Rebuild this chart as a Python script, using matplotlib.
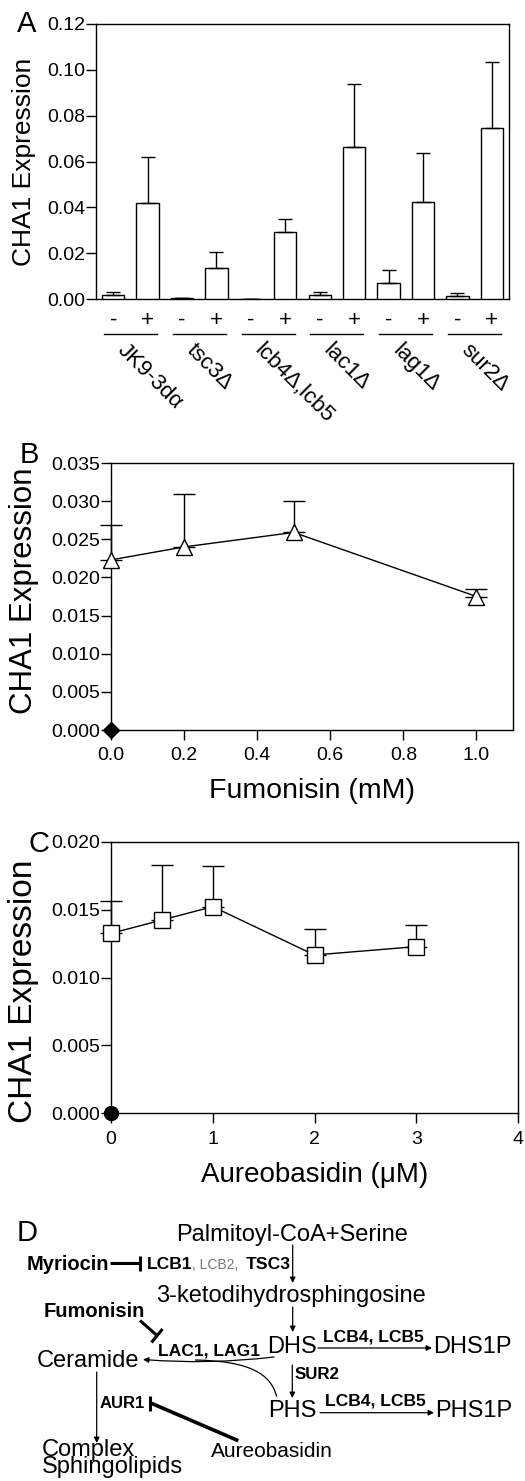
import matplotlib
matplotlib.use("Agg")
import matplotlib.pyplot as plt
import numpy as np
from matplotlib.path import Path
from matplotlib.patches import PathPatch

plt.rcParams['font.family'] = ['Liberation Sans', 'DejaVu Sans']

# ---------------- data ----------------
strains = ["JK9-3dα", "tsc3Δ", "lcb4Δ,lcb5", "lac1Δ", "lag1Δ", "sur2Δ"]
treat_labels = ["-", "+"]
minus_vals = [0.0018, 0.0003, 0.0002, 0.0017, 0.0072, 0.0013]
minus_err = [0.0012, 0.0002, 0.0000, 0.0013, 0.0055, 0.0012]
plus_vals = [0.0420, 0.0136, 0.0293, 0.0664, 0.0425, 0.0748]
plus_err = [0.0200, 0.0070, 0.0057, 0.0274, 0.0212, 0.0286]
a_yticks = [0.00, 0.02, 0.04, 0.06, 0.08, 0.10, 0.12]

fum_x = [0.0, 0.2, 0.5, 1.0]
fum_y = [0.0223, 0.0240, 0.0259, 0.0175]
fum_err = [0.0046, 0.0070, 0.0041, 0.0010]
fum_ctrl_x = [0.0]
fum_ctrl_y = [0.0]
b_xticks = [0.0, 0.2, 0.4, 0.6, 0.8, 1.0]
b_yticks = [0.000, 0.005, 0.010, 0.015, 0.020, 0.025, 0.030, 0.035]

aur_x = [0, 0.5, 1, 2, 3]
aur_y = [0.01326, 0.01424, 0.01523, 0.01166, 0.01228]
aur_err = [0.00239, 0.00406, 0.00300, 0.00192, 0.00159]
aur_ctrl_x = [0]
aur_ctrl_y = [0.0]
c_xticks = [0, 1, 2, 3, 4]
c_yticks = [0.000, 0.005, 0.010, 0.015, 0.020]

W, H = 525, 1481
fig = plt.figure(figsize=(W / 100, H / 100), dpi=100)


def frac(l, t, r, b):
    return [l / W, (H - b) / H, (r - l) / W, (b - t) / H]


LW = 1.0
TICK_FS = 14

# overlay axes in pixel coordinates for panel letters and diagram
axd = fig.add_axes([0, 0, 1, 1])
axd.set_xlim(0, W)
axd.set_ylim(H, 0)
axd.set_axis_off()

# ---------------- Panel A ----------------
axA = fig.add_axes(frac(96, 24, 509, 299))
n = len(strains)
xm = np.arange(n) * 2
xp = xm + 1
bw = 0.65
axA.bar(xm, minus_vals, width=bw, color='white', edgecolor='black', linewidth=LW,
        yerr=[np.zeros(n), minus_err], capsize=5, error_kw=dict(elinewidth=LW, capthick=LW), zorder=3)
axA.bar(xp, plus_vals, width=bw, color='white', edgecolor='black', linewidth=LW,
        yerr=[np.zeros(n), plus_err], capsize=5, error_kw=dict(elinewidth=LW, capthick=LW), zorder=3)
axA.set_xlim(-0.5, 2 * n - 0.5)
axA.set_ylim(0, 0.12)
axA.set_yticks(a_yticks)
axA.set_yticklabels([f"{v:.2f}" for v in a_yticks])
axA.set_xticks([])
axA.tick_params(axis='y', length=7, width=LW, pad=1, labelsize=TICK_FS)
for s in axA.spines.values():
    s.set_linewidth(LW)
axA.text(-0.174, 0.5, "CHA1 Expression", transform=axA.transAxes, rotation=90,
         ha='center', va='center', fontsize=19)
tr = axA.get_xaxis_transform()
for g in range(n):
    axA.text(xm[g], -0.077, treat_labels[0], transform=tr, ha='center', va='center', fontsize=16)
    axA.text(xp[g], -0.077, treat_labels[1], transform=tr, ha='center', va='center', fontsize=16)
    axA.plot([xm[g] - 0.27, xp[g] + 0.27], [-0.127, -0.127], transform=tr, color='black',
             lw=LW, clip_on=False)
    axA.text(xm[g] + 0.42, -0.148, strains[g], transform=tr, rotation=-45,
             rotation_mode='anchor', ha='left', va='top', fontsize=16)

# ---------------- Panel B ----------------
axB = fig.add_axes(frac(111, 463, 513, 730))
axB.errorbar(fum_x, fum_y, yerr=[np.zeros(len(fum_y)), fum_err], color='black', lw=LW,
             marker='^', markersize=12, markerfacecolor='white', markeredgecolor='black',
             markeredgewidth=LW, capsize=8, capthick=LW, elinewidth=LW, clip_on=False, zorder=3)
axB.plot(fum_ctrl_x, fum_ctrl_y, marker='D', color='black', markersize=8, ls='none',
         clip_on=False, zorder=4)
axB.set_xlim(0, 1.1)
axB.set_ylim(0, 0.035)
axB.set_xticks(b_xticks)
axB.set_xticklabels([f"{v:.1f}" for v in b_xticks])
axB.set_yticks(b_yticks)
axB.set_yticklabels([f"{v:.3f}" for v in b_yticks])
axB.tick_params(axis='both', length=7, width=LW, pad=1, labelsize=TICK_FS)
axB.tick_params(axis='x', pad=5)
for s in axB.spines.values():
    s.set_linewidth(LW)
axB.set_xlabel("Fumonisin (mM)", fontsize=20.5, labelpad=10)
axB.text(-0.216, 0.52, "CHA1 Expression", transform=axB.transAxes, rotation=90,
         ha='center', va='center', fontsize=22.5)

# ---------------- Panel C ----------------
axC = fig.add_axes(frac(111, 842, 518, 1113))
axC.errorbar(aur_x, aur_y, yerr=[np.zeros(len(aur_y)), aur_err], color='black', lw=LW,
             marker='s', markersize=11, markerfacecolor='white', markeredgecolor='black',
             markeredgewidth=LW, capsize=8, capthick=LW, elinewidth=LW, clip_on=False, zorder=3)
axC.plot(aur_ctrl_x, aur_ctrl_y, marker='o', color='black', markersize=10, ls='none',
         clip_on=False, zorder=4)
axC.set_xlim(0, 4)
axC.set_ylim(0, 0.020)
axC.set_xticks(c_xticks)
axC.set_yticks(c_yticks)
axC.set_yticklabels([f"{v:.3f}" for v in c_yticks])
axC.tick_params(axis='both', length=7, width=LW, pad=1, labelsize=TICK_FS)
axC.tick_params(axis='x', pad=6)
for s in axC.spines.values():
    s.set_linewidth(LW)
axC.set_xlabel("Aureobasidin (μM)", fontsize=20, labelpad=10)
axC.text(-0.216, 0.45, "CHA1 Expression", transform=axC.transAxes, rotation=90,
         ha='center', va='center', fontsize=24)

# ---------------- panel letters ----------------
axd.text(17, 24, "A", fontsize=21, ha='left', va='center')
axd.text(20, 455, "B", fontsize=21, ha='left', va='center')
axd.text(29, 844, "C", fontsize=21, ha='left', va='center')

# ---------------- Panel D (pathway diagram) ----------------
BIG = 17
BOLD = 12.6
axd.text(17, 1233, "D", fontsize=21, ha='left', va='center')


def t(x, y, s, **kw):
    kw.setdefault('ha', 'left')
    kw.setdefault('va', 'baseline')
    axd.text(x, y, s, **kw)


def arrow(x0, y0, x1, y1, lw=0.9):
    axd.annotate("", xy=(x1, y1), xytext=(x0, y0),
                 arrowprops=dict(arrowstyle='-|>', lw=lw, color='black',
                                 mutation_scale=8, shrinkA=0, shrinkB=0))


t(291.7, 1240.5, "Palmitoyl-CoA+Serine", fontsize=BIG, ha='center')
arrow(292.7, 1245, 292.7, 1283)
t(26.7, 1269.5, "Myriocin", fontsize=14.5, fontweight='bold')
axd.plot([110, 139.5], [1263.3, 1263.3], color='black', lw=2.2, solid_capstyle='butt')
axd.plot([139.5, 139.5], [1256, 1271], color='black', lw=2.2, solid_capstyle='butt')
t(147, 1269, "LCB1", fontsize=BOLD, fontweight='bold')
t(192, 1269, ", LCB2,", fontsize=10, color='#777777')
t(245.5, 1269, "TSC3", fontsize=BOLD, fontweight='bold')
t(291.3, 1301.7, "3-ketodihydrosphingosine", fontsize=BIG, ha='center')
arrow(292.7, 1307, 292.7, 1332)
t(43.3, 1317, "Fumonisin", fontsize=14.5, fontweight='bold')
axd.plot([140, 157], [1320.5, 1335.5], color='black', lw=2.2, solid_capstyle='butt')
axd.plot([151.5, 162.5], [1342.5, 1329], color='black', lw=2.2, solid_capstyle='butt')
t(158.3, 1355, "LAC1, LAG1", fontsize=BOLD, fontweight='bold')
t(266.7, 1353.3, "DHS", fontsize=BIG)
t(323.3, 1341.7, "LCB4, LCB5", fontsize=BOLD, fontweight='bold')
arrow(318, 1348, 432, 1348)
t(433.3, 1353.3, "DHS1P", fontsize=BIG)
t(36.7, 1366.7, "Ceramide", fontsize=BIG)
axd.annotate("", xy=(143, 1359.5), xytext=(274, 1357),
             arrowprops=dict(arrowstyle='-|>', lw=0.9, color='black', mutation_scale=8,
                             shrinkA=0, shrinkB=0, connectionstyle='arc3,rad=-0.05'))
curve = Path([(276.7, 1396.7), (271, 1374), (250, 1361), (195, 1360)],
             [Path.MOVETO, Path.CURVE4, Path.CURVE4, Path.CURVE4])
axd.add_patch(PathPatch(curve, facecolor='none', edgecolor='black', lw=0.9))
arrow(292.3, 1365, 292.3, 1398)
t(295, 1379, "SUR2", fontsize=12.2, fontweight='bold')
t(267.7, 1416.7, "PHS", fontsize=BIG)
t(325, 1405, "LCB4, LCB5", fontsize=BOLD, fontweight='bold')
arrow(320, 1412.7, 434, 1412.7)
t(435, 1416.7, "PHS1P", fontsize=BIG)
arrow(96.7, 1372, 96.7, 1443)
t(100, 1408, "AUR1", fontsize=12, fontweight='bold')
axd.plot([150, 150], [1395.5, 1410.5], color='black', lw=2.2, solid_capstyle='butt')
axd.plot([150, 238.3], [1402.7, 1440.7], color='black', lw=2.6, solid_capstyle='butt')
t(210.7, 1457, "Aureobasidin", fontsize=15)
t(41.7, 1439, "Complex\nSphingolipids", fontsize=BIG, va='top', linespacing=0.7)

fig.savefig("out.png", dpi=100)
